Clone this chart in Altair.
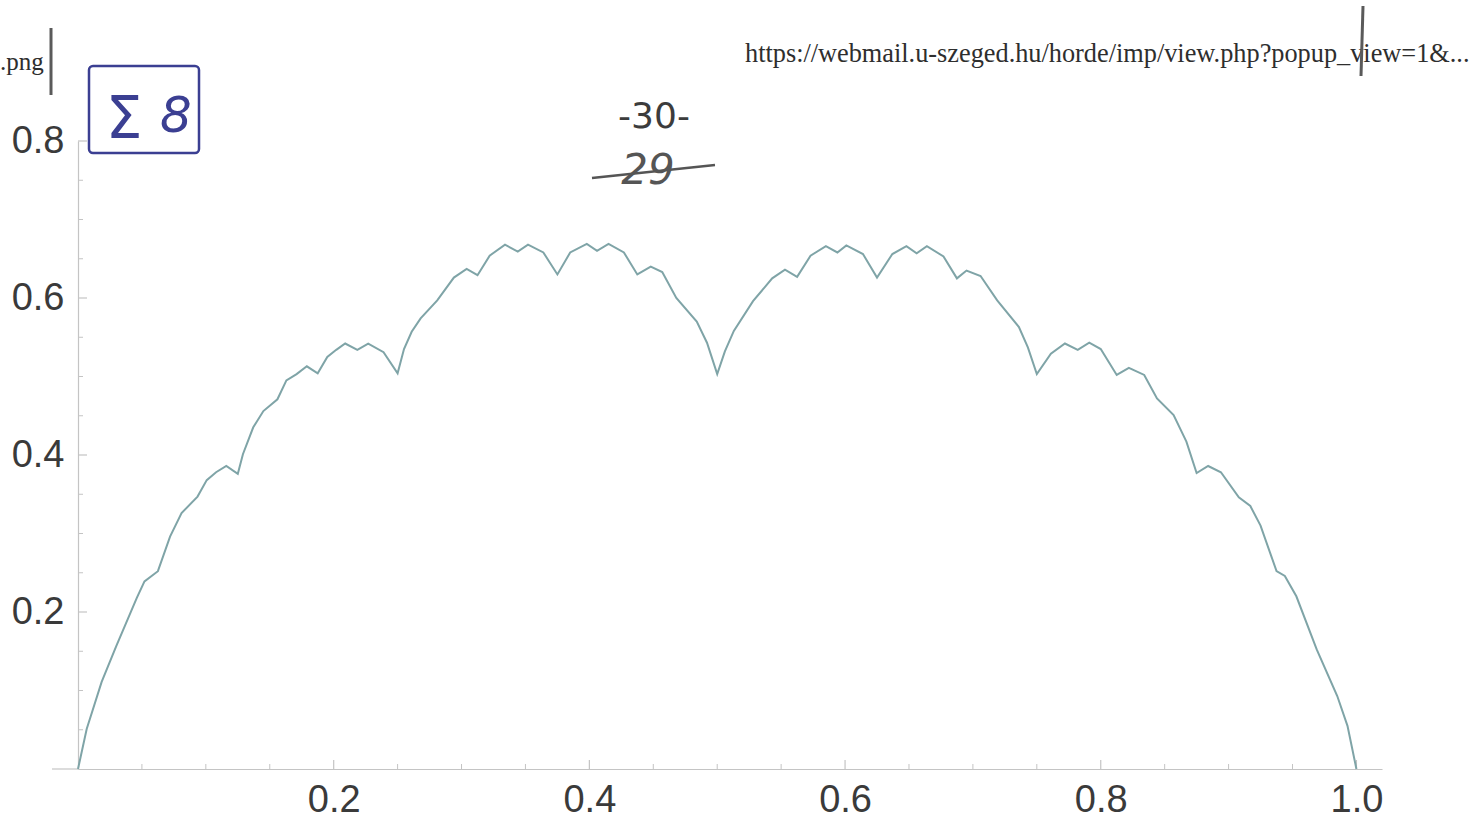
import altair as alt
import pandas as pd

# ---- curve values ----
xs = [0.000, 0.0068, 0.0185, 0.030, 0.046, 0.052, 0.0625, 0.072, 0.081, 0.0935,
      0.1007, 0.108, 0.116, 0.125, 0.129, 0.137, 0.145, 0.156, 0.163, 0.171,
      0.179, 0.1875, 0.195, 0.202, 0.209, 0.2185, 0.227, 0.239, 0.250, 0.255,
      0.261, 0.268, 0.281, 0.294, 0.304, 0.3125, 0.322, 0.334, 0.344, 0.352,
      0.364, 0.375, 0.385, 0.398, 0.406, 0.415, 0.427, 0.4375, 0.448, 0.457,
      0.468, 0.484, 0.492, 0.500, 0.506, 0.513, 0.528, 0.543, 0.553, 0.5625,
      0.573, 0.585, 0.594, 0.601, 0.614, 0.625, 0.637, 0.648, 0.656, 0.664,
      0.677, 0.6875, 0.695, 0.706, 0.719, 0.736, 0.743, 0.750, 0.761, 0.772,
      0.782, 0.791, 0.800, 0.8125, 0.822, 0.834, 0.844, 0.857, 0.867, 0.875,
      0.884, 0.894, 0.908, 0.917, 0.925, 0.9375, 0.944, 0.953, 0.969, 0.985,
      0.993, 1.000]
ys = [0.000, 0.051, 0.111, 0.157, 0.218, 0.239, 0.252, 0.296, 0.326, 0.347,
      0.368, 0.378, 0.386, 0.376, 0.401, 0.435, 0.456, 0.471, 0.495, 0.503,
      0.513, 0.504, 0.525, 0.534, 0.542, 0.534, 0.542, 0.531, 0.504, 0.535,
      0.557, 0.574, 0.597, 0.626, 0.637, 0.629, 0.654, 0.668, 0.659, 0.668,
      0.658, 0.630, 0.658, 0.669, 0.660, 0.669, 0.658, 0.630, 0.640, 0.633,
      0.600, 0.570, 0.543, 0.503, 0.532, 0.558, 0.596, 0.625, 0.636, 0.627,
      0.654, 0.666, 0.658, 0.667, 0.656, 0.626, 0.656, 0.666, 0.657, 0.666,
      0.653, 0.625, 0.635, 0.628, 0.597, 0.563, 0.537, 0.503, 0.529, 0.542,
      0.534, 0.543, 0.535, 0.502, 0.511, 0.502, 0.472, 0.451, 0.417, 0.377,
      0.386, 0.378, 0.346, 0.335, 0.310, 0.252, 0.246, 0.220, 0.152, 0.093,
      0.055, 0.000]

x_major = [0.2, 0.4, 0.6, 0.8, 1.0]
x_minor = [0.05, 0.1, 0.15, 0.25, 0.3, 0.35, 0.45, 0.5, 0.55, 0.65, 0.7, 0.75,
           0.85, 0.9, 0.95]
y_major = [0.2, 0.4, 0.6, 0.8]
y_minor = [0.05, 0.1, 0.15, 0.25, 0.3, 0.35, 0.45, 0.5, 0.55, 0.65, 0.7, 0.75]

url_text = ["https://webmail.u-szeged.hu/horde/imp/view.php?popup_view=1&..."]
png_text = [".png"]
sigma_text = ["\u03a3"]
eight_text = ["8"]
page_text = ["-30-"]
old_page_text = ["29"]

df = pd.DataFrame({"x": xs, "y": ys})

# plot origin on the page: (78, 141); view 1304 x 628
W, H = 1304, 628
AX = "#c4c4c4"
LBL = "Liberation Sans"

xscale = alt.Scale(domain=[0, 1.02], nice=False, zero=False)
yscale = alt.Scale(domain=[0, 0.8], nice=False)

xaxis = alt.Axis(values=x_major, format=".1f", ticks=False, grid=False,
                 domainColor=AX, domainWidth=1.2, labelFont=LBL,
                 labelFontSize=38, labelColor="#3a3a3a",
                 labelPadding=12, title=None, labelFlush=False)
yaxis = alt.Axis(values=y_major, format=".1f", ticks=False, grid=False,
                 domainColor=AX, domainWidth=1.2, labelFont=LBL,
                 labelFontSize=38, labelColor="#3a3a3a",
                 labelPadding=14, title=None, labelFlush=False)

line = alt.Chart(df).mark_line(color="#7fa4a7", strokeWidth=2).encode(
    x=alt.X("x:Q", scale=xscale, axis=xaxis),
    y=alt.Y("y:Q", scale=yscale, axis=yaxis),
)

xt_major = alt.Chart(pd.DataFrame({"x": x_major})).mark_rule(color=AX, strokeWidth=1.2).encode(
    x=alt.X("x:Q", scale=xscale, axis=xaxis), y=alt.value(H), y2=alt.value(H - 9))
xt_minor = alt.Chart(pd.DataFrame({"x": x_minor})).mark_rule(color=AX, strokeWidth=1).encode(
    x=alt.X("x:Q", scale=xscale, axis=xaxis), y=alt.value(H), y2=alt.value(H - 5))
yt_major = alt.Chart(pd.DataFrame({"y": y_major})).mark_rule(color=AX, strokeWidth=1.2).encode(
    y=alt.Y("y:Q", scale=yscale, axis=yaxis), x=alt.value(0), x2=alt.value(9))
yt_minor = alt.Chart(pd.DataFrame({"y": y_minor})).mark_rule(color=AX, strokeWidth=1).encode(
    y=alt.Y("y:Q", scale=yscale, axis=yaxis), x=alt.value(0), x2=alt.value(5))

one = pd.DataFrame({"a": [0]})
x_ext = alt.Chart(one).mark_rule(color=AX, strokeWidth=1.2).encode(
    x=alt.value(-26), x2=alt.value(0), y=alt.value(H))


def page_text_layer(texts, px, py, **kw):
    return alt.Chart(pd.DataFrame({"t": texts})).mark_text(**kw).encode(
        text="t:N", x=alt.value(px - 78), y=alt.value(py - 141))


url = page_text_layer(url_text, 745, 62, font="Liberation Serif", fontSize=26.3,
                      align="left", baseline="alphabetic", color="#2e2e2e")
png = page_text_layer(png_text, 0, 70, font="Liberation Serif", fontSize=25,
                      align="left", baseline="alphabetic", color="#2e2e2e")
sigma = page_text_layer(sigma_text, 124, 138, font="DejaVu Sans", fontSize=58,
                        align="center", baseline="alphabetic", color="#3b3f92")
eight = page_text_layer(eight_text, 176, 132, font="DejaVu Sans", fontSize=50,
                        align="center", baseline="alphabetic", color="#3b3f92",
                        fontStyle="italic")
thirty = page_text_layer(page_text, 654, 128, font="DejaVu Sans", fontSize=36,
                         align="center", baseline="alphabetic", color="#3c3c3c")
old = page_text_layer(old_page_text, 648, 184, font="DejaVu Sans", fontSize=42,
                      align="center", baseline="alphabetic", color="#555555",
                      fontStyle="italic")

box = alt.Chart(one).mark_rect(fillOpacity=0, stroke="#3b3f92", strokeWidth=2.5,
                               cornerRadius=4).encode(
    x=alt.value(89 - 78), x2=alt.value(199 - 78),
    y=alt.value(66 - 141), y2=alt.value(153 - 141))
strike = alt.Chart(one).mark_rule(color="#555555", strokeWidth=2.5).encode(
    x=alt.value(592 - 78), x2=alt.value(715 - 78),
    y=alt.value(178 - 141), y2=alt.value(165 - 141))
bar_left = alt.Chart(one).mark_rule(color="#5a5a5a", strokeWidth=3).encode(
    x=alt.value(51 - 78), y=alt.value(28 - 141), y2=alt.value(95 - 141))
bar_right = alt.Chart(one).mark_rule(color="#5a5a5a", strokeWidth=3).encode(
    x=alt.value(1363 - 78), x2=alt.value(1361 - 78),
    y=alt.value(6 - 141), y2=alt.value(76 - 141))

chart = alt.layer(
    x_ext, xt_major, xt_minor, yt_major, yt_minor, line,
    url, png, box, sigma, eight, thirty, old, strike, bar_left, bar_right
).properties(
    width=W, height=H,
    autosize=alt.AutoSizeParams(type="none"),
    padding={"left": 78, "top": 141, "right": 1478 - 78 - W, "bottom": 831 - 141 - H},
    background="white",
).configure_view(stroke=None)

chart.save("out.html", embed_options={"renderer": "svg", "actions": False})
